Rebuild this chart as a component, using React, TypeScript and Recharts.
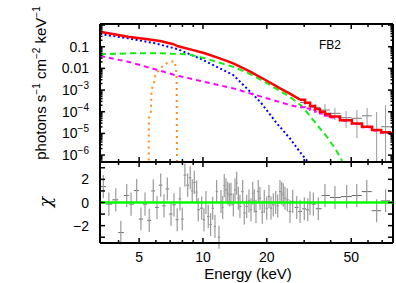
import React from 'react';
import { ComposedChart, Line, Scatter, ErrorBar, XAxis, YAxis, ReferenceLine } from 'recharts';

type Pt = [number, number];

const E_RANGE: Pt = [3.27, 78.7];
const FLUX_RANGE: Pt = [4.8e-7, 1.12];
const CHI_RANGE: Pt = [-3.5, 3.5];

// model curves: [keV, photons s-1 cm-2 keV-1]
const totalLow: Pt[] = [
  [3.27, 0.49], [4.44, 0.29], [5.5, 0.22], [6.38, 0.18], [6.86, 0.15], [7.2, 0.135], [7.64, 0.105],
  [9.0, 0.07], [10.2, 0.05], [12.0, 0.029], [13.9, 0.0171], [16.7, 0.0071], [20, 0.0027],
  [23.1, 0.0012], [25.7, 6.8e-4], [28.7, 3.6e-4],
];
const totalBinned: Pt[] = [
  [28.7, 3.6e-4], [30.3, 2.6e-4], [32.0, 1.85e-4], [33.8, 1.35e-4], [35.6, 1.0e-4], [37.6, 7.8e-5],
  [39.7, 6.0e-5], [44.3, 4.1e-5], [50.4, 2.9e-5], [56.2, 2.05e-5], [62.7, 1.45e-5], [69.2, 1.12e-5],
  [76.2, 1.0e-5], [78.7, 1.0e-5],
];
const thermal: Pt[] = [
  [3.27, 0.385], [4.44, 0.244], [5.94, 0.144], [7.64, 0.0759], [9.86, 0.0262], [11.6, 0.0119],
  [13.9, 0.00494], [16.1, 0.0012], [18.6, 2.9e-4], [22.3, 2.92e-5], [25.7, 5.9e-6], [28.6, 1.43e-6],
  [30.8, 5.9e-7], [32, 2.5e-7],
];
const hot: Pt[] = [
  [3.27, 0.0446], [4.44, 0.0496], [6.38, 0.0496], [8.53, 0.0446], [10.2, 0.0292], [13.9, 0.0119],
  [16.7, 0.0055], [20, 0.0021], [23.1, 9e-4], [25.7, 4.9e-4], [29.7, 1.6e-4], [33.1, 4.1e-5],
  [35.6, 1.71e-5], [38.4, 7.0e-6], [41.9, 2.05e-6], [44.7, 7.3e-7], [46, 3e-7],
];
const powerLaw: Pt[] = [
  [3.27, 0.0372], [4.44, 0.0203], [5.94, 0.0092], [7.38, 0.00494], [9.78, 0.00261], [13.9, 0.0012],
  [20, 4.17e-4], [25.7, 2.04e-4], [28.7, 1.6e-4],
];
const powerLawBinned: Pt[] = [
  [28.7, 1.6e-4], [30.3, 1.4e-4], [32.0, 1.2e-4], [33.8, 1.0e-4], [35.6, 8.2e-5], [37.6, 6.6e-5],
  [39.7, 5.5e-5], [44.3, 3.8e-5], [50.4, 2.75e-5], [56.2, 1.95e-5], [62.7, 1.38e-5], [69.2, 1.08e-5],
  [76.2, 9.4e-6], [78.7, 9.4e-6],
];
const ironLine: Pt[] = [
  [5.55, 3e-7], [5.56, 5e-5], [5.68, 1.0e-4], [5.72, 0.001], [5.88, 0.0022], [5.98, 0.0059],
  [6.27, 0.009], [6.5, 0.014], [6.74, 0.017], [7.06, 0.02], [7.3, 0.022], [7.45, 0.012],
  [7.5, 0.005], [7.52, 0.001], [7.54, 3e-7],
];

// spectrum points visible above the model (high energies)
const specE = [30.3, 33.8, 37.6, 41.9, 47.3, 53.2, 59.4, 65.9, 72.6];
const specF = [2.7e-4, 1.6e-4, 1.2e-4, 8.45e-5, 5.3e-5, 5.0e-5, 6.5e-5, 1.43e-5, 2.03e-5];
const specLo = [2.0e-4, 1.1e-4, 6.3e-5, 4.1e-5, 1.8e-5, 6e-6, 2.0e-5, 5e-7, 5e-7];
const specHi = [3.5e-4, 2.3e-4, 2.27e-4, 1.48e-4, 1.08e-4, 1.2e-4, 1.48e-4, 9.7e-5, 2.0e-4];

// residuals
const resE = [
  3.39, 3.6, 3.88, 4.1, 4.37, 4.58, 4.87, 5.1, 5.33, 5.58, 5.83, 6.07, 6.32, 6.55, 6.79, 7.07, 7.3,
  7.56, 7.79, 7.99, 8.22, 8.47, 8.71, 8.9, 9.1, 9.34, 9.5, 9.86, 10.11, 10.33, 10.59, 10.87, 11.11,
  11.39, 11.6, 11.9, 12.16, 12.39, 12.6, 12.84, 13.08, 13.31, 13.55, 13.9, 14.16, 14.42, 14.68,
  14.94, 15.39, 15.66, 16.07, 16.48, 16.84, 17.16, 17.46, 17.78, 18.23, 18.57, 19.04, 19.46, 19.98,
  20.48, 20.93, 21.46, 22.02, 22.51, 23.07, 23.5, 23.92, 24.36, 24.98, 25.73, 26.49, 27.67, 28.69,
  30.05, 31.19, 31.97, 33.14, 34.99, 37.6, 41.9, 47.6, 53.1, 59.2, 65.9, 72.6,
];
const resChi = [
  1.37, -0.14, 0.23, -2.6, 0.6, -0.14, 1.03, -1.43, -0.14, -1.54, 1.0, -0.43, 1.5, -0.29, 1.17, -1.0,
  -0.2, -1.49, 0.31, -1.43, 2.37, 1.5, 2.14, 1.0, 1.74, 0.9, -0.63, -0.49, -1.49, 0.0, -1.2, -1.9,
  -0.5, -2.06, 0.94, -3.0, 0.09, -0.43, 1.46, 1.09, 0.8, 0.66, 0.71, -0.2, 1.09, 1.66, 0.37, -0.34,
  0.94, -0.9, -0.34, 0.14, -0.63, 0.8, 0.14, -0.77, 0.94, 0.37, -0.83, 0.09, -0.49, 0.51, -0.49,
  -0.2, 0.0, -0.3, 0.94, 0.8, 0.66, 0.37, 0.23, -0.77, 0.1, -0.43, -0.77, -0.54, -0.63, -0.06,
  -0.14, -0.54, 0.6, 0.43, 0.51, 0.6, 0.94, -0.71, 0.14,
];
const zeroModel: Pt[] = [[3.27, 0], [78.7, 0]];

const X_MAJOR = [5, 10, 20, 50];
const X_TICKS = [4, 5, 6, 7, 8, 9, 10, 20, 30, 40, 50, 60, 70];
const CHI_TICKS = [-3, -2, -1, 0, 1, 2, 3];
const CHI_LABELLED = [-2, 0, 2];

const FLUX_TICKS: number[] = [];
for (let d = -7; d <= 0; d++) {
  for (let m = 1; m <= 9; m++) {
    const v = m * Math.pow(10, d);
    if (v >= FLUX_RANGE[0] && v <= FLUX_RANGE[1]) FLUX_TICKS.push(v);
  }
}

const FONT = "'Liberation Sans', Arial, Helvetica, sans-serif";
const W = 396;
const PLOT_L = 100;
const PLOT_R = 393;
const TOP_H = 163;
const TOP_Y0 = 24;
const TOP_Y1 = 162;
const BOT_H = 121;
const BOT_PLOT_H = 81;

const rows = (pts: Pt[], key: string) => pts.map(([e, v]) => ({ e, [key]: v }));

const binErr = (es: number[]) =>
  es.map((e, i) => {
    const lo = i > 0 ? Math.sqrt(es[i - 1] * e) : e * Math.sqrt(e / es[i + 1]);
    const hi = i < es.length - 1 ? Math.sqrt(e * es[i + 1]) : e * Math.sqrt(e / es[i - 1]);
    return [e - lo, hi - e];
  });

const specX = binErr(specE);
const specRows = specE.map((e, i) => ({
  e,
  f: specF[i],
  ex: specX[i],
  ey: [specF[i] - specLo[i], specHi[i] - specF[i]],
}));
const resX = binErr(resE);
const resRows = resE.map((e, i) => ({ e, r: resChi[i], ex: resX[i], ey: 1 }));

const NoMark = () => <g />;

const makeXTick = (yTop: number, yBot: number, labels: boolean) => (props: any) => {
  const { x, payload } = props;
  const major = X_MAJOR.includes(payload.value);
  const len = major ? 5 : 3;
  return (
    <g>
      <line x1={x} x2={x} y1={yTop} y2={yTop + len} stroke="#000" strokeWidth={1.5} />
      <line x1={x} x2={x} y1={yBot} y2={yBot - len} stroke="#000" strokeWidth={1.5} />
      {labels && major && (
        <text x={x} y={yBot + 19} textAnchor="middle" fontSize={14} fontFamily={FONT} fill="#000">
          {payload.value}
        </text>
      )}
    </g>
  );
};

const FluxTick = (props: any) => {
  const { y, payload } = props;
  const v = payload.value;
  const exp = Math.round(Math.log10(v));
  const major = Math.abs(v / Math.pow(10, exp) - 1) < 1e-6;
  const len = major ? 5 : 2.5;
  let label: React.ReactNode = null;
  if (major && exp < 0) {
    label =
      exp >= -2 ? (
        <text x={89} y={y + 5} textAnchor="end" fontSize={14} fontFamily={FONT} fill="#000">
          {exp === -1 ? '0.1' : '0.01'}
        </text>
      ) : (
        <text x={89} y={y + 5} textAnchor="end" fontSize={14} fontFamily={FONT} fill="#000">
          <tspan>10</tspan>
          <tspan dy={-6} fontSize={10}>{'\u2212' + Math.abs(exp)}</tspan>
        </text>
      );
  }
  return (
    <g>
      <line x1={PLOT_L} x2={PLOT_L + len} y1={y} y2={y} stroke="#000" strokeWidth={1.5} />
      <line x1={PLOT_R} x2={PLOT_R - len} y1={y} y2={y} stroke="#000" strokeWidth={1.5} />
      {label}
    </g>
  );
};

const ChiTick = (props: any) => {
  const { y, payload } = props;
  const v = payload.value;
  return (
    <g>
      <line x1={PLOT_L} x2={PLOT_L + 5} y1={y} y2={y} stroke="#000" strokeWidth={1.5} />
      <line x1={PLOT_R} x2={PLOT_R - 5} y1={y} y2={y} stroke="#000" strokeWidth={1.5} />
      {CHI_LABELLED.includes(v) && (
        <text x={89} y={y + 5} textAnchor="end" fontSize={14} fontFamily={FONT} fill="#000">
          {v < 0 ? '\u2212' + Math.abs(v) : v}
        </text>
      )}
    </g>
  );
};

const frame = { stroke: '#000', strokeWidth: 2 };
const supStyle: React.CSSProperties = { fontSize: 10, position: 'relative', top: -6 };

export default function App() {
  return (
    <div style={{ position: 'absolute', left: 0, top: 0, width: W, height: 283, background: '#fff', overflow: 'hidden' }}>
      <div style={{ position: 'absolute', left: 0, top: 0 }}>
        <ComposedChart width={W} height={TOP_H} margin={{ top: TOP_Y0, right: W - PLOT_R, bottom: 0, left: 0 }}>
          <XAxis
            dataKey="e"
            type="number"
            scale="log"
            domain={E_RANGE}
            allowDataOverflow
            ticks={X_TICKS}
            interval={0}
            height={TOP_H - TOP_Y1}
            tickLine={false}
            axisLine={frame}
            tick={makeXTick(TOP_Y0, TOP_Y1, false)}
          />
          <YAxis
            dataKey="f"
            type="number"
            scale="log"
            domain={FLUX_RANGE}
            allowDataOverflow
            ticks={FLUX_TICKS}
            interval={0}
            width={PLOT_L}
            tickLine={false}
            axisLine={frame}
            tick={FluxTick}
          />
          <ReferenceLine y={FLUX_RANGE[1]} stroke="#000" strokeWidth={2} ifOverflow="visible" />
          <ReferenceLine x={E_RANGE[1]} stroke="#000" strokeWidth={2} ifOverflow="visible" />
          <Scatter data={specRows} shape={NoMark} isAnimationActive={false}>
            <ErrorBar dataKey="ex" direction="x" width={0} stroke="#777" strokeWidth={1} isAnimationActive={false} />
            <ErrorBar dataKey="ey" direction="y" width={0} stroke="#999" strokeWidth={1} isAnimationActive={false} />
          </Scatter>
          <Line data={rows(thermal, 'f')} dataKey="f" type="linear" stroke="#0000ff" strokeWidth={2} strokeDasharray="2 2.5" dot={false} activeDot={false} isAnimationActive={false} />
          <Line data={rows(hot, 'f')} dataKey="f" type="linear" stroke="#11ee11" strokeWidth={2} strokeDasharray="6 4" dot={false} activeDot={false} isAnimationActive={false} />
          <Line data={rows(powerLaw, 'f')} dataKey="f" type="linear" stroke="#ff00ff" strokeWidth={2} strokeDasharray="5 4" dot={false} activeDot={false} isAnimationActive={false} />
          <Line data={rows(powerLawBinned, 'f')} dataKey="f" type="stepAfter" stroke="#ff00ff" strokeWidth={2} strokeDasharray="5 3" dot={false} activeDot={false} isAnimationActive={false} />
          <Line data={rows(ironLine, 'f')} dataKey="f" type="linear" stroke="#ff8c1a" strokeWidth={2} strokeDasharray="2 4" dot={false} activeDot={false} isAnimationActive={false} />
          <Line data={rows(totalLow, 'f')} dataKey="f" type="linear" stroke="#ff0000" strokeWidth={2.5} dot={false} activeDot={false} isAnimationActive={false} />
          <Line data={rows(totalBinned, 'f')} dataKey="f" type="stepAfter" stroke="#ff0000" strokeWidth={2.5} dot={false} activeDot={false} isAnimationActive={false} />
        </ComposedChart>
      </div>
      <div style={{ position: 'absolute', left: 0, top: TOP_Y1 }}>
        <ComposedChart width={W} height={BOT_H} margin={{ top: 0, right: W - PLOT_R, bottom: 0, left: 0 }}>
          <XAxis
            dataKey="e"
            type="number"
            scale="log"
            domain={E_RANGE}
            allowDataOverflow
            ticks={X_TICKS}
            interval={0}
            height={BOT_H - BOT_PLOT_H}
            tickLine={false}
            axisLine={frame}
            tick={makeXTick(0, BOT_PLOT_H, true)}
          />
          <YAxis
            dataKey="r"
            type="number"
            domain={CHI_RANGE}
            allowDataOverflow
            ticks={CHI_TICKS}
            interval={0}
            width={PLOT_L}
            tickLine={false}
            axisLine={frame}
            tick={ChiTick}
          />
          <ReferenceLine y={CHI_RANGE[1]} stroke="#000" strokeWidth={2} ifOverflow="visible" />
          <ReferenceLine x={E_RANGE[1]} stroke="#000" strokeWidth={2} ifOverflow="visible" />
          <Scatter data={resRows} shape={NoMark} isAnimationActive={false}>
            <ErrorBar dataKey="ex" direction="x" width={0} stroke="#666" strokeWidth={1} isAnimationActive={false} />
            <ErrorBar dataKey="ey" direction="y" width={0} stroke="#9a9a9a" strokeWidth={1.2} isAnimationActive={false} />
          </Scatter>
          <Line data={rows(zeroModel, 'r')} dataKey="r" type="linear" stroke="#00ff00" strokeWidth={2.5} dot={false} activeDot={false} isAnimationActive={false} />
        </ComposedChart>
      </div>
      <div
        style={{
          position: 'absolute', left: 40, top: 83, transform: 'translate(-50%, -50%) rotate(-90deg)',
          whiteSpace: 'nowrap', fontSize: 15, lineHeight: 1, fontFamily: FONT, color: '#000',
        }}
      >
        photons s<span style={supStyle}>{'\u22121'}</span> cm<span style={supStyle}>{'\u22122'}</span> keV
        <span style={supStyle}>{'\u22121'}</span>
      </div>
      <div
        style={{
          position: 'absolute', left: 45, top: 202, transform: 'translate(-50%, -50%) rotate(-90deg)',
          fontSize: 17, lineHeight: 1, fontFamily: "'DejaVu Serif', serif", fontStyle: 'italic', color: '#000',
        }}
      >
        χ
      </div>
      <div
        style={{
          position: 'absolute', left: 248, top: 273, transform: 'translate(-50%, -50%)',
          whiteSpace: 'nowrap', fontSize: 15, lineHeight: 1, fontFamily: FONT, color: '#000',
        }}
      >
        Energy (keV)
      </div>
      <div style={{ position: 'absolute', left: 319, top: 39, fontSize: 12, lineHeight: 1, fontFamily: FONT, color: '#000' }}>
        FB2
      </div>
    </div>
  );
}
